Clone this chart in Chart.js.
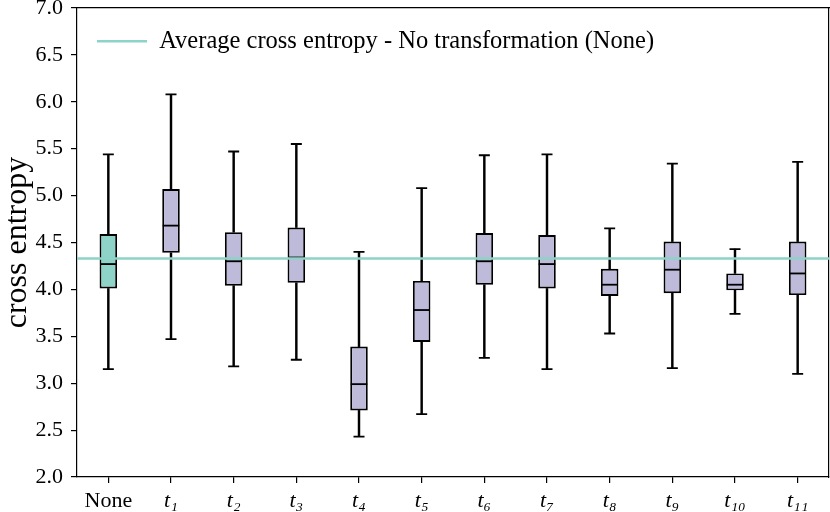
<!DOCTYPE html>
<html><head><meta charset="utf-8">
<script src="https://cdn.jsdelivr.net/npm/chart.js@4.4.1/dist/chart.umd.min.js"></script>
<style>html,body{margin:0;padding:0;background:#fff}</style>
</head><body>
<canvas id="c" width="830" height="512"></canvas>
<script>
// ---- data ----
const categories   = ['None','t₁','t₂','t₃','t₄','t₅','t₆','t₇','t₈','t₉','t₁₀','t₁₁'];
const whiskerLow   = [3.15, 3.47, 3.18, 3.25, 2.43, 2.67, 3.27, 3.15, 3.53, 3.16, 3.74, 3.10];
const quartile1    = [4.01, 4.39, 4.04, 4.07, 2.71, 3.44, 4.05, 4.01, 3.93, 3.96, 3.99, 3.94];
const medians      = [4.27, 4.68, 4.30, 4.34, 2.99, 3.78, 4.30, 4.27, 4.05, 4.21, 4.05, 4.17];
const quartile3    = [4.59, 5.07, 4.61, 4.66, 3.39, 4.09, 4.60, 4.58, 4.22, 4.51, 4.17, 4.51];
const whiskerHigh  = [5.44, 6.08, 5.47, 5.55, 4.40, 5.08, 5.43, 5.44, 4.65, 5.34, 4.43, 5.36];
const averageNone  = 4.33;
const yMin = 2.0, yMax = 7.0, yStep = 0.5;
const legendLabel = 'Average cross entropy - No transformation (None)';
const yTitle = 'cross entropy';

const TEAL = '#8dd3c7', LAV = '#bebada', BLACK = '#000';
const FAMILY = '"Liberation Serif", "DejaVu Serif", serif';
const fills = categories.map((c, i) => i === 0 ? TEAL : LAV);

const boxData   = quartile1.map((v, i) => [v, quartile3[i]]);
const upperData = quartile3.map((v, i) => [v, whiskerHigh[i]]);
const lowerData = whiskerLow.map((v, i) => [v, quartile1[i]]);

const noPad = s => { s.paddingLeft = 0; s.paddingRight = 0; s.paddingTop = 0; s.paddingBottom = 0; };

const ctx = document.getElementById('c').getContext('2d');
new Chart(ctx, {
  type: 'bar',
  data: {
    labels: categories,
    datasets: [
      { type: 'line', label: legendLabel, xAxisID: 'xa',
        data: [{x: 0, y: averageNone}, {x: 1, y: averageNone}],
        borderColor: TEAL, backgroundColor: TEAL, borderWidth: 2.5,
        pointRadius: 0, pointStyle: 'line', order: 0 },
      { type: 'line', label: '', data: medians, showLine: false,
        pointStyle: 'line', pointRadius: 8.3, pointBorderColor: BLACK,
        pointBorderWidth: 1.8, order: 1 },
      { type: 'line', label: '', data: whiskerHigh, showLine: false,
        pointStyle: 'line', pointRadius: 5.5, pointBorderColor: BLACK,
        pointBorderWidth: 1.8, order: 1 },
      { type: 'line', label: '', data: whiskerLow, showLine: false,
        pointStyle: 'line', pointRadius: 5.5, pointBorderColor: BLACK,
        pointBorderWidth: 1.8, order: 1 },
      { type: 'bar', label: '', data: boxData, backgroundColor: fills,
        borderColor: BLACK, borderWidth: 1.9, borderSkipped: false,
        grouped: false, barPercentage: 0.28, categoryPercentage: 1, order: 2 },
      { type: 'bar', label: '', data: upperData, backgroundColor: BLACK,
        borderWidth: 0, grouped: false, barThickness: 1.8, order: 3 },
      { type: 'bar', label: '', data: lowerData, backgroundColor: BLACK,
        borderWidth: 0, grouped: false, barThickness: 1.8, order: 3 }
    ]
  },
  options: {
    responsive: false,
    animation: false,
    events: [],
    layout: { autoPadding: false, padding: { top: 8, right: 1, left: 0, bottom: 0 } },
    plugins: {
      tooltip: { enabled: false },
      legend: {
        position: 'chartArea', align: 'start',
        title: { display: true, text: '', padding: 0, font: { size: 9, lineHeight: 1 } },
        labels: {
          usePointStyle: true, pointStyleWidth: 50, padding: 20,
          color: BLACK, font: { family: FAMILY, size: 24.5 },
          filter: item => item.text !== ''
        }
      }
    },
    scales: {
      x: {
        type: 'category', offset: true,
        grid: { display: true, offset: false, drawOnChartArea: false, drawTicks: true,
                tickLength: 6, color: BLACK, lineWidth: 1.2 },
        border: { display: true, color: BLACK, width: 1.2 },
        ticks: { color: BLACK, padding: 5, maxRotation: 0, autoSkip: false,
                 font: c => ({ family: FAMILY, size: 22, style: c.index === 0 ? 'normal' : 'italic' }) },
        afterFit: s => { s.height = 35; noPad(s); }
      },
      x2: {
        type: 'category', position: 'top', offset: true,
        grid: { display: false }, ticks: { display: false },
        border: { display: true, color: BLACK, width: 1.2 },
        afterFit: s => { s.height = 0; noPad(s); }
      },
      y: {
        type: 'linear', min: yMin, max: yMax,
        grid: { display: true, drawOnChartArea: false, drawTicks: true,
                tickLength: 6, color: BLACK, lineWidth: 1.2 },
        border: { display: true, color: BLACK, width: 1.2 },
        ticks: { stepSize: yStep, color: BLACK, padding: 8,
                 font: { family: FAMILY, size: 22 },
                 callback: v => Number(v).toFixed(1) },
        title: { display: true, text: yTitle, color: BLACK, padding: { top: -2, bottom: 0 },
                 font: { family: FAMILY, size: 32 } },
        afterFit: s => { s.width = 77; noPad(s); }
      },
      y2: {
        type: 'linear', position: 'right', min: yMin, max: yMax,
        grid: { display: false }, ticks: { display: false },
        border: { display: true, color: BLACK, width: 1.2 },
        afterFit: s => { s.width = 0; noPad(s); }
      },
      xa: { type: 'linear', min: 0, max: 1, display: false, offset: false,
            ticks: { display: false }, grid: { display: false, offset: false },
            afterFit: s => { s.height = 0; noPad(s); } }
    }
  }
});
</script>
</body></html>
